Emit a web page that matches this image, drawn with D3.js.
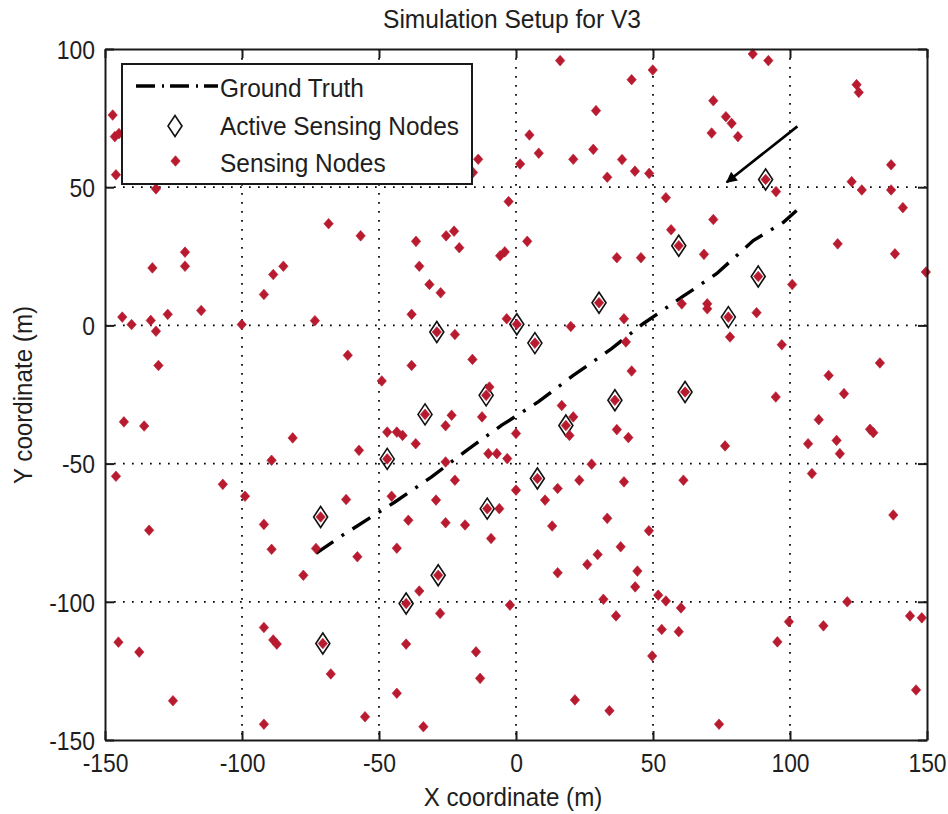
<!DOCTYPE html>
<html>
<head>
<meta charset="utf-8">
<title>Simulation Setup for V3</title>
<script src="https://cdn.jsdelivr.net/npm/d3@7"></script>
<style>
  body { margin: 0; background: #ffffff; }
  svg { display: block; }
  text { font-family: "Liberation Sans", Arial, Helvetica, sans-serif; fill: #1e1e1e; }
</style>
</head>
<body>
<svg id="chart" width="948" height="814"></svg>
<script>
// ---- data -------------------------------------------------------------
const xTicks = [-150, -100, -50, 0, 50, 100, 150];
const yTicks = [-150, -100, -50, 0, 50, 100];

const titleText = "Simulation Setup for V3";
const xLabel = "X coordinate (m)";
const yLabel = "Y coordinate (m)";
const legendLabels = ["Ground Truth", "Active Sensing Nodes", "Sensing Nodes"];

// target trajectory
const truthX = [-73, -64.2, -44.2, -30.8, -18, -5.2, 8.1, 20.9, 34.9, 46.4, 60.5, 73.2, 86.6, 97.6, 102.4];
const truthY = [-82.5, -76.5, -63.9, -54.8, -45.2, -36.1, -27.7, -18.1, -8.4, 0.6, 10.2, 18.7, 30.7, 37.3, 41.6];

// nodes selected for sensing
const activeX = [30.3, -28.9, 0.3, 6.9, -10.9, -33.2, 18.2, 36.1, -47, 7.8, -10.5, -71.3, 88.4, 77.5, 61.7, 91.1, 59.4, -28.4, -40.1, -70.5];
const activeY = [8.2, -2.4, 0.4, -6.4, -25.3, -32.2, -36.2, -27.1, -48.3, -55.4, -66.3, -69.3, 17.7, 3.0, -24.1, 52.8, 28.8, -90.4, -100.6, -115.1];

// all other deployed sensing nodes
const sensingX = [
  -147.2, -146.4, -144.9, -146, -131.4, -132.7, -120.8, -120.8, -88.6, -84.9,
  -92, -143.7, -140.3, -133.3, -131.4, -127.1, -114.9, -100.1, -73.4, -130.5,
  -143.1, -135.7, -81.5, -89.2, -146, -107, -98.9, -133.9, -92,
  -89.2, -73, -77.6, -92, -88.6, -87.3, -145.1, -137.5, -125.2, -92,
  -57.9, -43.5, -35.3, -27.7, -2.2, -40.1, -14.6, -13.1, -67.6, -43.5,
  -55.1, -33.8, 21.5, 34.1, -39.3, -25.7, -18.6, -9.1, 13.2, 29.8,
  26, 15.2, 31.9, 36.5, 38.2, 33.3,
  48.5, 44.3, 43.5, 51.9, 54.7, 60.2, 53.2, 59.4, 49.7, 74.1,
  95.4, 99.6, 112.2, 120.9, 143.8, 148.1, 146,
  149.6, 100.8, 69.8, 69.8, 60.5, 87.8, 39.4, 78.1, 97, 40.1,
  42.2, 132.8, 114.1, 119.7, 94.8, 110.5, 129.2, 130.4, 36.8, 41,
  117, 118.2, 106.6, 76.3, 108, 39.4, 61.1, 137.7,
  -35.3, -31.6, -27.5, -38.1, -3.4, 20, -22.3, -61.4, -38.1, -15.9,
  -49, -9.7, -23.5, -25.7, -12.4, 16.7, 20.9, 19.5, 0, -47,
  -43.5, -41.4, -36.6, -57.3, -10.1, -7, -3.2, -25.7, 27.6, -22.3,
  0, 23.1, 15.2, 10.6, -62, -45.4, -29.2, -6.1,
  16.1, 29.2, 4.9, 8.3, 1.5, 20.9, 28.2, 33.3, -13.8, -15.7,
  -2.7, -68.4, -56.7, -36.5, -25.5, -22.6, -20.7, -5.8, -4.1, 4.1,
  86.4, 92.1, 49.9, 42.2, 72, 76.6, 78.7, 71.4, 81, 124.3,
  125.1, 38.7, 43.4, 48.6, 94.9, 54.7, 72, 56.6, 36.8, 45.6,
  68.6, 117.4, 138.3, 122.5, 126.2, 136.9, 136.9, 141.2
];
const sensingY = [
  76.1, 68.3, 69.4, 54.5, 49.4, 20.8, 26.5, 21.4, 18.4, 21.4,
  11.2, 3.0, 0.3, 1.8, -2.1, 4.0, 5.4, 0.3, 1.7, -14.5,
  -34.9, -36.4, -40.7, -48.8, -54.6, -57.5, -61.8, -74.1, -72,
  -81, -80.7, -90.4, -109.3, -113.8, -115.3, -114.6, -118.2, -135.8, -144.3,
  -83.7, -80.6, -96.1, -104.2, -101.2, -115.3, -118.1, -127.7, -126.1, -133.1,
  -141.6, -145.2, -135.5, -139.4, -70.5, -71.4, -72.2, -77.1, -72.6, -82.9,
  -86.5, -89.5, -99.1, -105.1, -80.1, -69.8,
  -74.3, -88.9, -94.6, -97.6, -99.7, -102.2, -110, -110.8, -119.6, -144.3,
  -114.5, -107.2, -108.7, -100, -105.1, -105.8, -131.9,
  19.3, 14.8, 7.8, 6.0, 7.8, 4.6, 2.4, -4.2, -7, -6,
  -16.5, -13.6, -18.1, -24.7, -25.9, -34.1, -37.6, -38.8, -37.7, -40.6,
  -41.6, -46.4, -42.8, -43.6, -53.6, -56.6, -56, -68.6,
  21.4, 14.8, 11.8, 4.0, 2.4, -0.4, -3.3, -10.8, -14.5, -12.3,
  -20.1, -22.3, -32.5, -36.3, -33.1, -29, -33.1, -39.8, -39.1, -38.6,
  -38.6, -39.8, -42.8, -45.2, -46.4, -46.4, -48.2, -49.4, -50.2, -56,
  -59.6, -56, -59, -63.2, -63, -61.8, -63.2, -66.3,
  95.8, 77.7, 68.9, 62.3, 58.4, 60.1, 63.7, 53.6, 60.1, 55.3,
  44.8, 36.8, 32.4, 30.4, 32.4, 34.1, 28.1, 25.2, 26.6, 30.4,
  98.2, 95.8, 92.4, 88.9, 81.3, 75.5, 73.1, 69.6, 68.3, 87.1,
  84.3, 60, 55.8, 55, 48.4, 46.2, 38.3, 34.6, 24.5, 24.5,
  25.7, 29.5, 25.9, 52, 49, 58.1, 49, 42.6
];

// annotation arrow (data coordinates)
const arrowFrom = [102.7, 72];
const arrowTo = [76.9, 51.8];

// ---- layout ------------------------------------------------------------
const plot = { left: 105, right: 927, top: 49, bottom: 740 };
const red = "#b81b2f";
const ink = "#1a1a1a";

const svg = d3.select("#chart");
const x = d3.scaleLinear().domain([-150, 150]).range([plot.left, plot.right]);
const y = d3.scaleLinear().domain([-150, 100]).range([plot.bottom, plot.top]);

// scaled text helper: glyphs drawn slightly narrower than the font's default width
function label(parent, tx, ty, str, anchor, sx, rot) {
  const g = parent.append("g")
    .attr("transform", `translate(${tx},${ty})` + (rot ? ` rotate(${rot})` : "") + ` scale(${sx},1)`);
  g.append("text")
    .attr("text-anchor", anchor)
    .attr("font-size", 26)
    .text(str);
  return g;
}

// ---- grid --------------------------------------------------------------
const grid = svg.append("g").attr("stroke", "#000").attr("stroke-width", 1.7)
  .attr("stroke-dasharray", "1.7,7.3");
grid.selectAll("line.vx").data(xTicks.filter(v => v > -150 && v < 150)).join("line")
  .attr("x1", d => x(d)).attr("x2", d => x(d))
  .attr("y1", plot.top).attr("y2", plot.bottom);
grid.selectAll("line.hy").data(yTicks.filter(v => v > -150 && v < 100)).join("line")
  .attr("y1", d => y(d)).attr("y2", d => y(d))
  .attr("x1", plot.left).attr("x2", plot.right);

// ---- ground truth ------------------------------------------------------
const truth = truthX.map((v, i) => [v, truthY[i]]);
svg.append("path")
  .datum(truth)
  .attr("d", d3.line().x(d => x(d[0])).y(d => y(d[1])))
  .attr("fill", "none")
  .attr("stroke", "#000")
  .attr("stroke-width", 3.4)
  .attr("stroke-dasharray", "21,10,3,10");

// ---- markers -----------------------------------------------------------
const diamondBig = "M0,-10.5L7,0L0,10.5L-7,0Z";
const diamondSmall = "M0,-5.3L4.7,0L0,5.3L-4.7,0Z";

const active = activeX.map((v, i) => [v, activeY[i]]);
const sensing = sensingX.map((v, i) => [v, sensingY[i]]);

svg.append("g").selectAll("path").data(active).join("path")
  .attr("transform", d => `translate(${x(d[0])},${y(d[1])})`)
  .attr("d", diamondBig)
  .attr("fill", "none")
  .attr("stroke", "#111")
  .attr("stroke-width", 1.6);

// every active node is also a sensing node, so it carries a red marker too
svg.append("g").selectAll("path").data(sensing.concat(active)).join("path")
  .attr("transform", d => `translate(${x(d[0])},${y(d[1])})`)
  .attr("d", diamondSmall)
  .attr("fill", red)
  .attr("stroke", red)
  .attr("stroke-width", 0.6);

// ---- axes (MATLAB-style box with inward ticks) -------------------------
const fmt = d => String(d);
const axB = svg.append("g").attr("transform", `translate(0,${plot.bottom})`)
  .call(d3.axisBottom(x).tickValues(xTicks).tickFormat(fmt).tickSizeInner(-9).tickSizeOuter(0).tickPadding(13.5));
const axL = svg.append("g").attr("transform", `translate(${plot.left},0)`)
  .call(d3.axisLeft(y).tickValues(yTicks).tickFormat(fmt).tickSizeInner(-9).tickSizeOuter(0).tickPadding(11.4));
const axT = svg.append("g").attr("transform", `translate(0,${plot.top})`)
  .call(d3.axisTop(x).tickValues(xTicks).tickFormat("").tickSizeInner(-9).tickSizeOuter(0));
const axR = svg.append("g").attr("transform", `translate(${plot.right},0)`)
  .call(d3.axisRight(y).tickValues(yTicks).tickFormat("").tickSizeInner(-9).tickSizeOuter(0));

[axB, axL, axT, axR].forEach(a => {
  a.select(".domain").attr("stroke", ink).attr("stroke-width", 2);
  a.selectAll(".tick line").attr("stroke", ink).attr("stroke-width", 2);
  a.selectAll(".tick text")
    .attr("font-size", 26)
    .attr("font-family", "'Liberation Sans', Arial, Helvetica, sans-serif")
    .attr("fill", "#1e1e1e")
    .attr("transform", "scale(0.88,1)");
});
axL.selectAll(".tick text").attr("dy", "0.36em");

// ---- titles ------------------------------------------------------------
label(svg, 512, 28, titleText, "middle", 0.945);
label(svg, 513, 806, xLabel, "middle", 0.93);
label(svg, 32, 395, yLabel, "middle", 0.93, -90);

// ---- arrow annotation --------------------------------------------------
svg.append("defs").append("marker")
  .attr("id", "arrowhead")
  .attr("viewBox", "0 0 10 10")
  .attr("refX", 9).attr("refY", 5)
  .attr("markerUnits", "userSpaceOnUse")
  .attr("markerWidth", 15).attr("markerHeight", 11)
  .attr("orient", "auto")
  .append("path").attr("d", "M0,0L10,5L0,10Z").attr("fill", "#000");
svg.append("line")
  .attr("x1", x(arrowFrom[0])).attr("y1", y(arrowFrom[1]))
  .attr("x2", x(arrowTo[0])).attr("y2", y(arrowTo[1]))
  .attr("stroke", "#000").attr("stroke-width", 2.6)
  .attr("marker-end", "url(#arrowhead)");

// ---- legend ------------------------------------------------------------
const lg = svg.append("g");
lg.append("rect")
  .attr("x", 122).attr("y", 64).attr("width", 350).attr("height", 120)
  .attr("fill", "#fff").attr("stroke", ink).attr("stroke-width", 2);
lg.append("line")
  .attr("x1", 136).attr("x2", 218).attr("y1", 86).attr("y2", 86)
  .attr("stroke", "#000").attr("stroke-width", 3.4)
  .attr("stroke-dasharray", "19,7,2,6");
lg.append("path").attr("transform", "translate(175,126)").attr("d", diamondBig)
  .attr("fill", "none").attr("stroke", "#111").attr("stroke-width", 1.6);
lg.append("path").attr("transform", "translate(175.5,161)").attr("d", diamondSmall)
  .attr("fill", red).attr("stroke", red).attr("stroke-width", 0.6);
const legendBaselines = [97, 134.5, 171.5];
legendLabels.forEach((t, i) => label(lg, 220, legendBaselines[i], t, "start", 0.94));
</script>
</body>
</html>
